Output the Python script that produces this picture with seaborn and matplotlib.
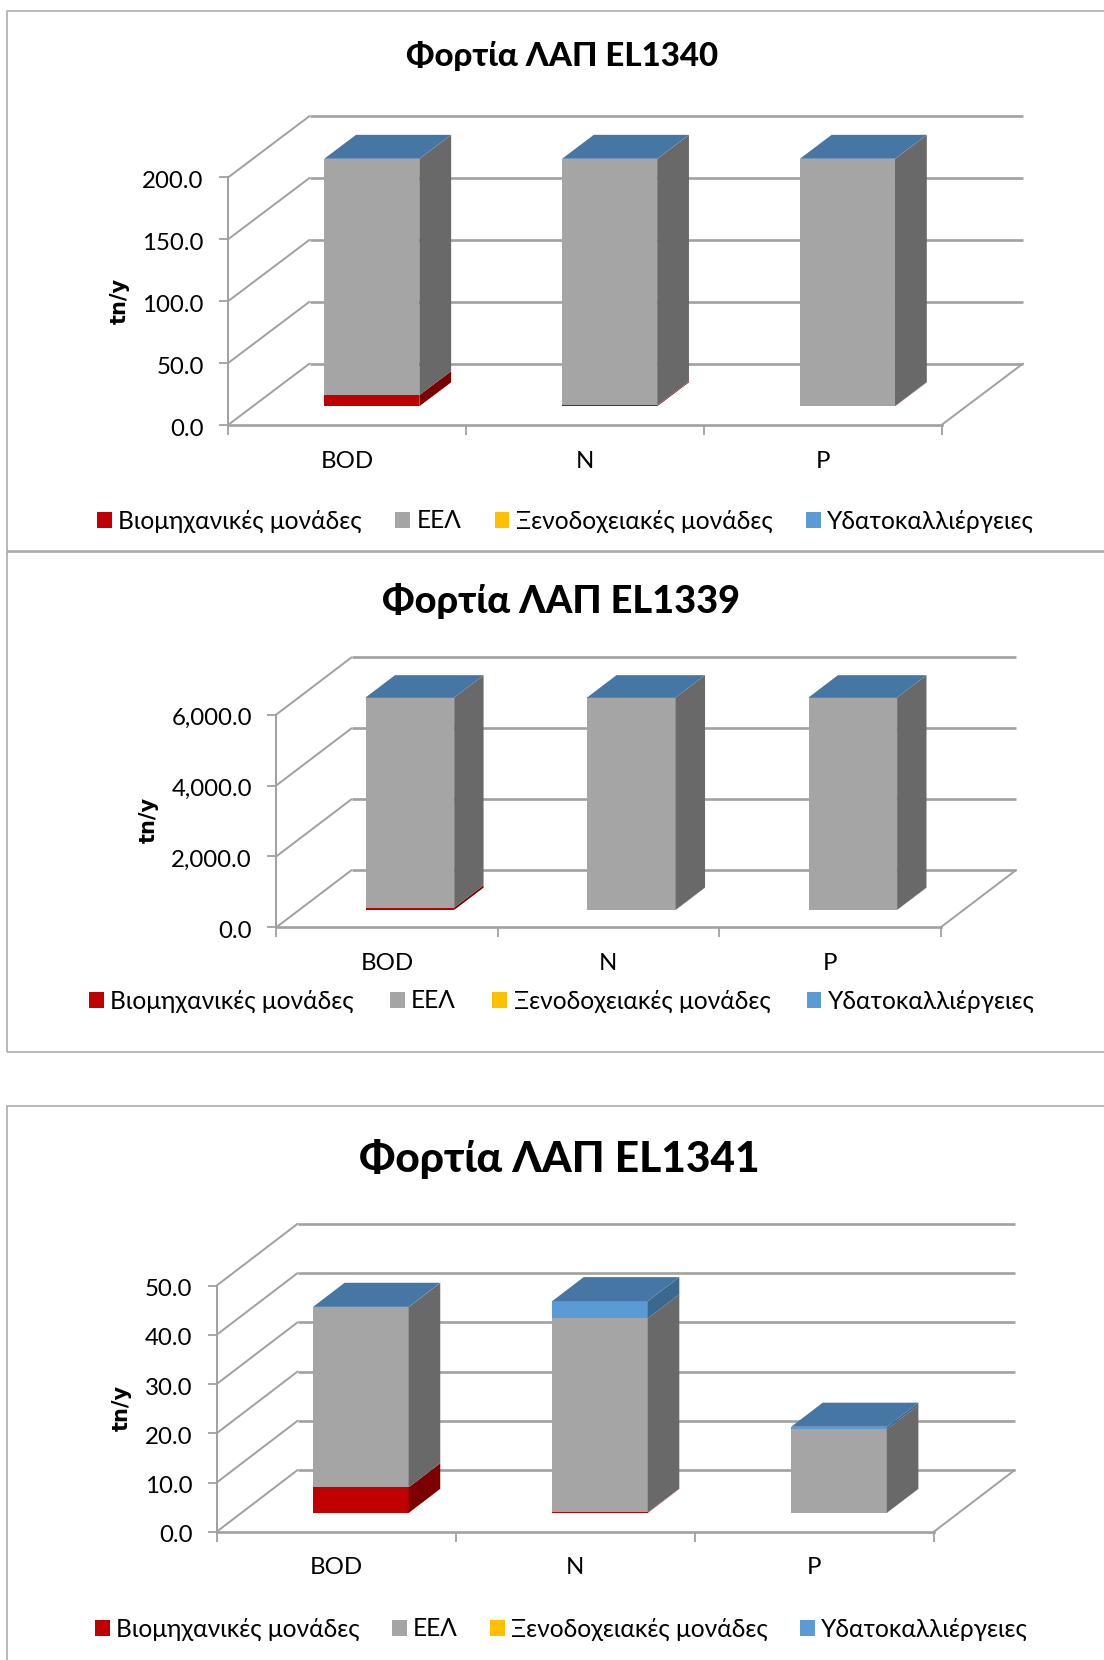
import numpy as np
import matplotlib
matplotlib.use("Agg")
import matplotlib.pyplot as plt
from matplotlib.patches import Patch, Polygon, Rectangle
from matplotlib.transforms import ScaledTranslation
import seaborn as sns

sns.set_theme(style="white")
plt.rcParams["font.family"] = ["Lato", "Open Sans", "DejaVu Sans"]

W, H = 1104, 1660
CATEGORIES = ["BOD", "N", "P"]
SERIES_NAMES = ["Βιομηχανικές μονάδες", "ΕΕΛ", "Ξενοδοχειακές μονάδες", "Υδατοκαλλιέργειες"]

# Loads in tn/y per chart and source
el1340_industry = [9.0, 0.7, 0.3]
el1340_wwtp = [190.9, 199.2, 199.6]
el1340_hotels = [0.0, 0.0, 0.0]
el1340_aqua = [0.1, 0.1, 0.1]
el1340_ticks = [0, 50, 100, 150, 200]

el1339_industry = [68.0, 4.0, 2.0]
el1339_wwtp = [5922.0, 5986.0, 5988.0]
el1339_hotels = [0.0, 0.0, 0.0]
el1339_aqua = [0.5, 0.5, 0.5]
el1339_ticks = [0, 2000, 4000, 6000]

el1341_industry = [5.2, 0.1, 0.0]
el1341_wwtp = [36.6, 39.4, 17.0]
el1341_hotels = [0.0, 0.0, 0.0]
el1341_aqua = [0.05, 3.5, 0.5]
el1341_ticks = [0, 10, 20, 30, 40, 50]

FRONT = ["#C00000", "#A5A5A5", "#FFC000", "#5B9BD5"]
SIDE = ["#7D0000", "#696969", "#A67D00", "#3C6890"]
TOP_FACE = "#4676A3"
LINE = "#A0A0A0"
DEPTH_START, DEPTH_LEN = 0.305, 0.39
BAR_WIDTH = 0.40
LABEL_SIZE = 17.68


def px_axes(fig, x0, x1, y_top, y_bottom):
    return fig.add_axes([x0 / W, 1 - y_bottom / H, (x1 - x0) / W, (y_bottom - y_top) / H])


def draw_chart(fig, series, ticks, title, box, title_pos, title_size, ylabel_pos, legend_pos, legend_gap):
    fx0, fx1, fy0, fytop, dpx, dpy = box
    ymax = ticks[-1]
    cat_px = (fx1 - fx0) / 3
    unit_px = (fy0 - fytop) / ymax
    dx = dpx / cat_px          # depth offset, in category units
    dy = dpy / unit_px         # depth offset, in value units
    ax = px_axes(fig, fx0, fx1 + dpx, fytop - dpy, fy0)
    ax.set_xlim(0, 3 + dx)
    ax.set_ylim(0, ymax + dy)
    ax.patch.set_alpha(0)

    # walls and floor outline
    for t in ticks:
        ax.plot([dx, 3 + dx], [t + dy, t + dy], color=LINE, lw=1.9, zorder=1, clip_on=False,
                solid_capstyle="butt")
        ax.plot([0, dx], [t, t + dy], color=LINE, lw=1.4, zorder=1, clip_on=False)
    ax.plot([3, 3 + dx], [0, dy], color=LINE, lw=1.4, zorder=1, clip_on=False)

    centers = np.arange(3) + 0.5
    bar_x = centers + DEPTH_START * dx
    base = np.full(3, DEPTH_START * dy)
    half = BAR_WIDTH / 2
    sx, sy = DEPTH_LEN * dx, DEPTH_LEN * dy

    for values, front, side in zip(series, FRONT, SIDE):
        vals = np.asarray(values, dtype=float)
        sns.barplot(x=bar_x, y=vals, bottom=base, color=front, saturation=1, width=BAR_WIDTH,
                    native_scale=True, orient="x", errorbar=None, linewidth=0, zorder=3, ax=ax)
        for xc, b, v in zip(bar_x, base, vals):
            if v > 0:
                xr = xc + half
                ax.add_patch(Polygon([(xr, b), (xr + sx, b + sy), (xr + sx, b + sy + v), (xr, b + v)],
                                     closed=True, fc=side, ec="none", zorder=3))
        base = base + vals

    # lid of each column
    for xc, b in zip(bar_x, base):
        xl, xr = xc - half, xc + half
        ax.add_patch(Polygon([(xl, b), (xr, b), (xr + sx, b + sy), (xl + sx, b + sy)],
                             closed=True, fc=TOP_FACE, ec="none", zorder=4))

    # axes and labels
    ax.set_xlim(0, 3 + dx)
    ax.set_ylim(0, ymax + dy)
    for name in ("top", "right"):
        ax.spines[name].set_visible(False)
    ax.spines["left"].set_bounds(0, ymax)
    ax.spines["bottom"].set_bounds(0, 3)
    ax.spines["left"].set_color(LINE)
    ax.spines["bottom"].set_color(LINE)
    ax.spines["left"].set_linewidth(1.4)
    ax.spines["bottom"].set_linewidth(1.9)
    ax.set_yticks(ticks, [f"{t:,.1f}" for t in ticks])
    ax.set_xticks([0, 1, 2, 3], ["", "", "", ""])
    ax.set_xticks(centers, CATEGORIES, minor=True)
    ax.tick_params(axis="y", which="major", left=True, length=6.5, width=1.3, color=LINE,
                   labelsize=17.3, labelcolor="black", pad=11)
    ax.tick_params(axis="x", which="major", bottom=True, length=7, width=1.3, color=LINE)
    ax.tick_params(axis="x", which="minor", bottom=False, length=0, labelsize=17.3,
                   labelcolor="black", pad=18.5)
    # tick text sits slightly under its tick mark
    shift = ScaledTranslation(0, -1.5 / 72, fig.dpi_scale_trans)
    for lab in ax.get_yticklabels():
        lab.set_transform(lab.get_transform() + shift)
    ax.set_xlabel("")
    ax.set_ylabel("")

    fig.text(title_pos[0] / W, 1 - title_pos[1] / H, title, ha="center", va="center",
             fontsize=title_size, fontweight="black", color="black")
    fig.text(ylabel_pos[0] / W, 1 - ylabel_pos[1] / H, "tn/y", rotation=90, ha="center", va="center",
             fontsize=15, fontweight="bold", family="DejaVu Sans", color="black")

    handles = [Patch(fc=c, ec="none", label=n) for c, n in zip(FRONT, SERIES_NAMES)]
    fig.legend(handles=handles, ncol=4, frameon=False, fontsize=LABEL_SIZE,
               loc="center left", bbox_to_anchor=(legend_pos[0] / W, 1 - legend_pos[1] / H),
               borderpad=0, borderaxespad=0, handlelength=0.6, handleheight=0.6,
               handletextpad=0.26, columnspacing=legend_gap, labelcolor="black")


fig = plt.figure(figsize=(W / 100, H / 100), dpi=100, facecolor="white")

# frames around the three chart areas
for y_top, y_bottom in [(10.6, 551.5), (552, 1052), (1105.6, 1700)]:
    fig.add_artist(Rectangle((6.5 / W, 1 - y_bottom / H), 1.2, (y_bottom - y_top) / H,
                             transform=fig.transFigure, fc="none", ec="#A6A6A6", lw=1.1, clip_on=True))

draw_chart(fig, [el1340_industry, el1340_wwtp, el1340_hotels, el1340_aqua], el1340_ticks,
           "Φορτία ΛΑΠ EL1340", (228, 941.5, 425, 177.5, 81.5, 61.4),
           (562, 56), 23.8, (120, 301), (97, 521), 1.36)
draw_chart(fig, [el1339_industry, el1339_wwtp, el1339_hotels, el1339_aqua], el1339_ticks,
           "Φορτία ΛΑΠ EL1339", (276.2, 940.6, 927.4, 714.6, 75.3, 57.2),
           (561, 601), 27.3, (149, 820), (89, 1001), 1.48)
draw_chart(fig, [el1341_industry, el1341_wwtp, el1341_hotels, el1341_aqua], el1341_ticks,
           "Φορτία ΛΑΠ EL1341", (216.6, 933.8, 1531.8, 1285.6, 81, 61.8),
           (559, 1159), 30.5, (122, 1408), (95, 1629), 1.31)

fig.savefig("out.png", dpi=100, facecolor="white")
